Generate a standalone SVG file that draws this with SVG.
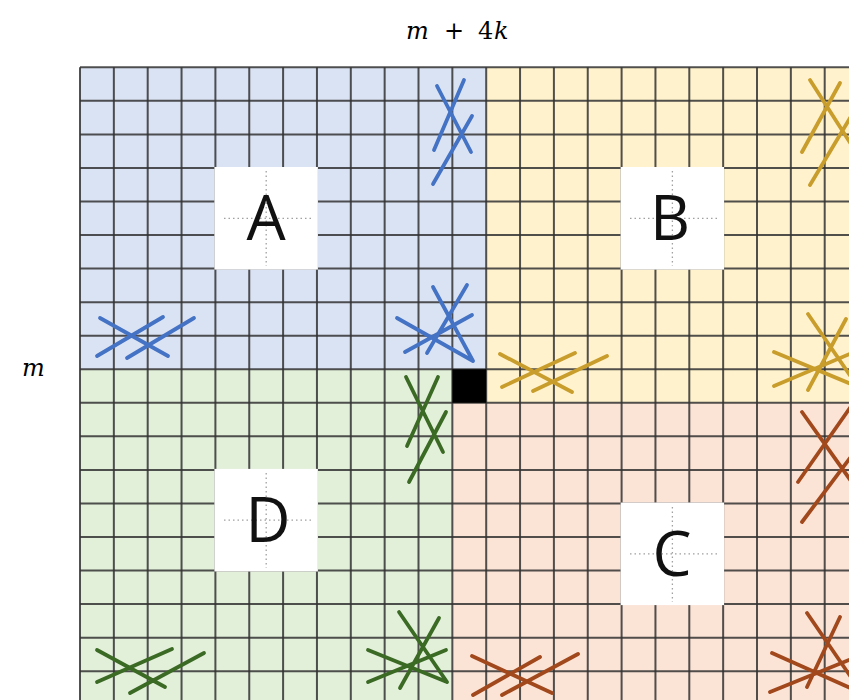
<svg xmlns="http://www.w3.org/2000/svg" width="849" height="700" viewBox="0 0 849 700">
<defs>
<style>
.grid{fill:none;stroke:#333333;stroke-width:2;opacity:0.85}
.box{fill:#ffffff}
.dot{fill:none;stroke:#a0a0a0;stroke-width:1.3;stroke-dasharray:1.5 3}
.lbl{font-family:"Open Sans","Liberation Sans",sans-serif;font-size:62px;fill:#111;text-anchor:middle}
.math{font-family:"DejaVu Serif","Liberation Serif",serif;font-size:24px;fill:#000}
.mk{fill:none;stroke-width:3.8;stroke-linecap:round}
.blue{stroke:#4472c4}
.gold{stroke:#c99d2c}
.green{stroke:#3b6a25}
.brown{stroke:#a1491c}
</style>
</defs>
<rect width="849" height="700" fill="#ffffff"/>
<g id="regions">
<rect id="regionA" x="80" y="67.3" width="406.2" height="301.95" fill="#dae3f3"/>
<rect id="regionB" x="486.2" y="67.3" width="362.8" height="335.5" fill="#fff2cc"/>
<rect id="regionC" x="452.35" y="402.8" width="396.65" height="297.2" fill="#fbe3d6"/>
<rect id="regionD" x="80" y="369.25" width="372.35" height="330.75" fill="#e2efd9"/>
</g>
<g id="grid">
<path class="grid" d="M80,67.3V700M113.85,67.3V700M147.7,67.3V700M181.55,67.3V700M215.4,67.3V700M249.25,67.3V700M283.1,67.3V700M316.95,67.3V700M350.8,67.3V700M384.65,67.3V700M418.5,67.3V700M452.35,67.3V700M486.2,67.3V700M520.05,67.3V700M553.9,67.3V700M587.75,67.3V700M621.6,67.3V700M655.45,67.3V700M689.3,67.3V700M723.15,67.3V700M757,67.3V700M790.85,67.3V700M824.7,67.3V700"/>
<path class="grid" d="M80,67.3H849M80,100.85H849M80,134.4H849M80,167.95H849M80,201.5H849M80,235.05H849M80,268.6H849M80,302.15H849M80,335.7H849M80,369.25H849M80,402.8H849M80,436.35H849M80,469.9H849M80,503.45H849M80,537H849M80,570.55H849M80,604.1H849M80,637.65H849M80,671.2H849"/>
</g>
<rect id="center-cell" x="452.35" y="369.25" width="33.85" height="33.55" fill="#000"/>
<g id="nodeA">
<rect class="box" x="214.4" y="167" width="103.5" height="102.6"/>
<path class="dot" d="M224,218.3H312M266.2,171V266"/>
<text class="lbl" x="266.2" y="240">A</text>
</g>
<g id="nodeB">
<rect class="box" x="620.6" y="167" width="103.5" height="102.6"/>
<path class="dot" d="M630,218.3H718M672.4,171V266"/>
<text class="lbl" x="670" y="240">B</text>
</g>
<g id="nodeD">
<rect class="box" x="214.4" y="468.9" width="103.5" height="102.6"/>
<path class="dot" d="M224,520.2H312M266.2,473V568"/>
<text class="lbl" x="268" y="542">D</text>
</g>
<g id="nodeC">
<rect class="box" x="620.6" y="502.5" width="103.5" height="102.6"/>
<path class="dot" d="M630,553.8H718M672.4,507V602"/>
<text class="lbl" x="672" y="576">C</text>
</g>
<g id="marks">
<path class="mk blue" d="M437,86L471,152M464,80L434,150M472,116L433,184"/>
<path class="mk blue" d="M100,318L168,356M97,356L163,317M127,358L194,318"/>
<path class="mk blue" d="M433,287L473,361M467,285L427,353M397,318L473,361M405,352L472,315"/>
<path class="mk gold" d="M810,80L856,152M840,83L802,152M856,108L810,185"/>
<path class="mk gold" d="M500,354L572,392M502,387L575,353M533,391L607,356"/>
<path class="mk gold" d="M808,314L856,384M846,319L808,390M774,352L856,386M774,386L852,353"/>
<path class="mk green" d="M406,377L443,452M438,377L407,446M446,412L409,482"/>
<path class="mk green" d="M97,650L165,687M97,682L172,649M130,693L204,653"/>
<path class="mk green" d="M399,612L447,682M439,618L400,688M368,650L447,682M368,682L446,650"/>
<path class="mk brown" d="M802,412L856,488M852,405L798,482M856,450L802,522"/>
<path class="mk brown" d="M472,656L552,693M473,695L540,657M502,695L578,654"/>
<path class="mk brown" d="M807,613L855,683M840,617L807,687M772,653L855,690M770,692L849,660"/>
</g>
<g id="labels">
<text class="math" x="406" y="39"><tspan font-style="italic">m</tspan><tspan x="444">+</tspan><tspan x="478">4</tspan><tspan x="494" font-style="italic">k</tspan></text>
<text class="math" x="22" y="376" font-style="italic">m</text>
</g>
</svg>
